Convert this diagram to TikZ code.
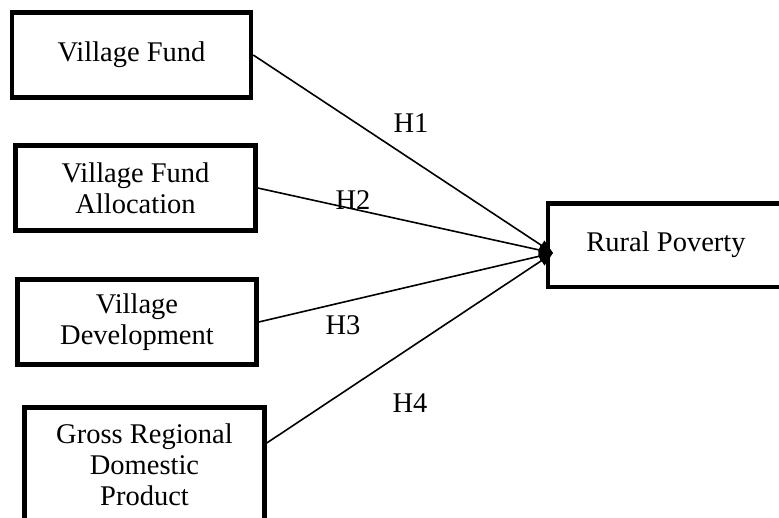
\documentclass[tikz,border=0pt]{standalone}
\usepackage{fontspec}
\setmainfont{Liberation Serif}
\usetikzlibrary{arrows.meta}
\begin{document}
\begin{tikzpicture}[x=1pt,y=-1pt,
  box/.style={draw,line width=4.5pt,align=center,inner sep=0pt,
    font=\fontsize{28.5}{31}\selectfont},
  link/.style={line width=1.6pt,-{Triangle[length=14pt,width=11pt]}},
  hlab/.style={font=\fontsize{28.5}{31}\selectfont,inner sep=0pt}]
\useasboundingbox (0,0) rectangle (779,517);
\clip (0,0) rectangle (779,517);
\node[box,minimum width=239pt,minimum height=85pt] (b1) at (131.5,55) {Village Fund};
\node[box,minimum width=240pt,minimum height=85pt] (b2) at (135.5,188) {Village Fund\\Allocation};
\node[box,minimum width=239pt,minimum height=85pt] (b3) at (137,322) {Village\\Development};
\node[box,minimum width=240pt,minimum height=115pt] (b4) at (144.5,465) {Gross Regional\\Domestic\\Product};
\node[box,minimum width=236pt,minimum height=83.5pt] (rp) at (666,245) {Rural Poverty};
\coordinate (tip) at (553,253);
\draw[link] (b1.east) -- (tip);
\draw[link] (b2.east) -- (tip);
\draw[link] (b3.east) -- (tip);
\draw[link] ([yshift=22pt]b4.east) -- (tip);
\node[hlab] (h1) at (411,123) {H1};
\node[hlab] (h2) at (353,200) {H2};
\node[hlab] (h3) at (343,325) {H3};
\node[hlab] (h4) at (410,403) {H4};
\end{tikzpicture}
\end{document}
